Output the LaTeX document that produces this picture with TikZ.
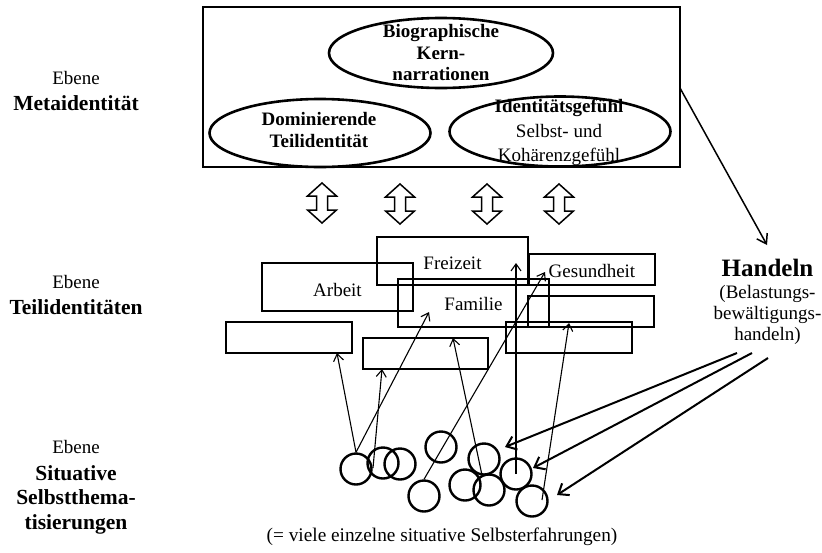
\documentclass[tikz,border=0pt]{standalone}
\usepackage{fontspec}
\setmainfont{Liberation Serif}
\usetikzlibrary{arrows.meta,shapes.geometric}

\newcommand\fsz[2]{\fontsize{#1}{#2}\selectfont}

\tikzset{
  lvlsmall/.style={font=\fsz{19}{22}},
  lvlbold/.style={font=\fsz{21.5}{24.5}\bfseries, align=center},
  metabox/.style={draw, line width=1.3pt, inner sep=0pt},
  oval/.style={draw, ellipse, line width=2.6pt, inner sep=0pt},
  ovaltext/.style={align=center, inner sep=0pt},
  idbox/.style={draw, line width=1.2pt, inner sep=0pt, font=\fsz{19}{22}},
  sitcircle/.style={draw, circle, line width=2.4pt, minimum size=31pt, inner sep=0pt},
  link/.style={line width=1.1pt, -{Straight Barb[length=7pt,width=10pt,line width=1.1pt]}},
  act/.style={line width=2pt, -{Straight Barb[length=9pt,width=14pt,line width=2pt]}},
  toact/.style={line width=1.5pt, -{Straight Barb[length=9pt,width=12pt,line width=1.5pt]}},
  updown/.pic={
    \draw[line width=1.5pt, line join=miter]
      (0,-20) -- (14.5,-7) -- (5.5,-7) -- (5.5,7) -- (14.5,7) -- (0,20)
      -- (-14.5,7) -- (-5.5,7) -- (-5.5,-7) -- (-14.5,-7) -- cycle;
  }
}

\begin{document}
\begin{tikzpicture}[x=1pt,y=-1pt]
\useasboundingbox (0,0) rectangle (822,552);

% level labels on the left
\node[lvlsmall] (ebmeta) at (76,78) {Ebene};
\node[lvlbold]  (lvmeta) at (76,103) {Metaidentität};
\node[lvlsmall] (ebteil) at (76,282) {Ebene};
\node[lvlbold]  (lvteil) at (76,307) {Teilidentitäten};
\node[lvlsmall] (ebsit)  at (76,447) {Ebene};
\node[lvlbold]  (lvsit)  at (76,499.5) {Situative\\Selbstthema-\\tisierungen};

% meta identity frame with its three ovals
\node[metabox, minimum width=477pt, minimum height=160pt] (meta) at (441.5,87) {};
\node[oval, minimum width=224pt, minimum height=70pt] (bio) at (441,53) {};
\node[oval, minimum width=221pt, minimum height=68pt] (dom) at (320,133) {};
\node[oval, minimum width=221pt, minimum height=70pt] (gef) at (560,131.5) {};
\node[ovaltext, font=\fsz{19}{21.5}\bfseries] (biotext) at (441,52.5)
  {Biographische\\Kern-\\narrationen};
\node[ovaltext, font=\fsz{19}{22}\bfseries] (domtext) at (319,129.5) {Dominierende\\Teilidentität};
\node[ovaltext, font=\fsz{19}{24.5}] (geftext) at (559,132.5)
  {\textbf{Identitätsgefühl}\\Selbst- und\\Kohärenzgefühl};

% exchange arrows between the two upper levels
\pic (ud1) at (322,203) {updown};
\pic (ud2) at (400,204) {updown};
\pic (ud3) at (487,204) {updown};
\pic (ud4) at (559,204) {updown};

% partial identities (text height moves each label slightly below the box centre)
\node[idbox, minimum width=151pt, minimum height=48pt, text height=18.6pt, text depth=0pt] (arbeit)  at (337.5,287) {Arbeit};
\node[idbox, minimum width=151pt, minimum height=48pt, text height=16.6pt, text depth=0pt] (freizeit) at (452.5,261) {Freizeit};
\node[idbox, minimum width=126pt, minimum height=31pt, text height=16.6pt, text depth=0pt] (gesund)  at (592,269.5) {Gesundheit};
\node[idbox, minimum width=151pt, minimum height=48pt, text height=14.6pt, text depth=0pt] (familie) at (473.5,303) {Familie};
\node[idbox, minimum width=126pt, minimum height=31pt] (leerA)   at (591,311.5) {};
\node[idbox, minimum width=126pt, minimum height=31pt] (leerB)   at (289,337.5) {};
\node[idbox, minimum width=125pt, minimum height=31pt] (leerC)   at (425.5,353.5) {};
\node[idbox, minimum width=126pt, minimum height=31pt] (leerD)   at (569,337.5) {};

% situative self-thematisations
\node[sitcircle] (c1)  at (356,469) {};
\node[sitcircle] (c2)  at (383,463) {};
\node[sitcircle] (c3)  at (400,464) {};
\node[sitcircle] (c4)  at (441,447) {};
\node[sitcircle] (c5)  at (424,496) {};
\node[sitcircle] (c6)  at (484,459) {};
\node[sitcircle] (c7)  at (465,485) {};
\node[sitcircle] (c8)  at (489,490) {};
\node[sitcircle] (c9)  at (516,474) {};
\node[sitcircle] (c10) at (532,501) {};

% acting
\node[font=\fsz{25}{28}\bfseries] (handeln) at (767.5,268) {Handeln};
\node[align=center, font=\fsz{19}{21}] (handelnsub) at (767.5,315)
  {(Belastungs-\\bewältigungs-\\handeln)};

\node[font=\fsz{19.3}{22}] (caption) at (442,537)
  {(= viele einzelne situative Selbsterfahrungen)};

% end points of the connectors
\coordinate (t1) at (337,353);
\coordinate (t2) at (429,312);
\coordinate (s3) at (373,468);
\coordinate (t3) at (382,369);
\coordinate (t4) at (545,272);
\coordinate (t5) at (453,338);
\coordinate (t6) at (516,263);
\coordinate (s7) at (542,500);
\coordinate (t7) at (569,323);
\coordinate (h1) at (737,353);
\coordinate (h2) at (752,353);
\coordinate (h3) at (768,358);
\coordinate (a1) at (505,447);
\coordinate (a2) at (533,468);
\coordinate (a3) at (557,495);
\coordinate (m0) at (680,88);
\coordinate (m1) at (767,245);

% situations feeding partial identities
\draw[link] (c1.north) -- (t1);
\draw[link] (c1.north) -- (t2);
\draw[link] (s3) -- (t3);
\draw[link] (c5.north) -- (t4);
\draw[link] (c8.115) -- (t5);
\draw[link] (c9.center) -- (t6);
\draw[link] (s7) -- (t7);

% acting feeds back into situations
\draw[act] (h1) -- (a1);
\draw[act] (h2) -- (a2);
\draw[act] (h3) -- (a3);

% meta identity guides acting
\draw[toact] (m0) -- (m1);
\end{tikzpicture}
\end{document}
